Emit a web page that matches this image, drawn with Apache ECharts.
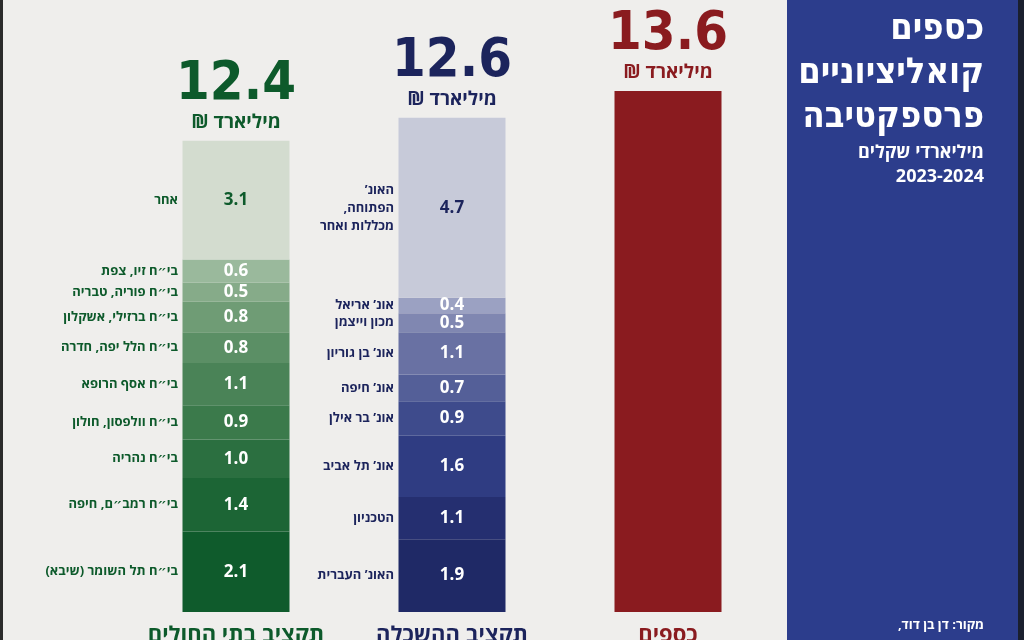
<!DOCTYPE html>
<html>
<head>
<meta charset="utf-8">
<script src="https://cdn.jsdelivr.net/npm/echarts@6/dist/echarts.min.js"></script>
<style>
  html, body { margin: 0; padding: 0; background: #efeeec; }
  #chart { width: 1024px; height: 640px; }
</style>
</head>
<body>
<div id="chart" dir="rtl"></div>
<script>
// columns, left to right
var categories = ['תקציב בתי החולים', 'תקציב ההשכלה', 'כספים'];
var totals = [12.4, 12.6, 13.6];

// hospitals, bottom to top
var hospitalNames = ['בי״ח תל השומר (שיבא)', 'בי״ח רמב״ם, חיפה', 'בי״ח נהריה', 'בי״ח וולפסון, חולון',
  'בי״ח אסף הרופא', 'בי״ח הלל יפה, חדרה', 'בי״ח ברזילי, אשקלון', 'בי״ח פוריה, טבריה', 'בי״ח זיו, צפת', 'אחר'];
var hospitalValues = [2.1, 1.4, 1.0, 0.9, 1.1, 0.8, 0.8, 0.5, 0.6, 3.1];

// higher education, bottom to top
var uniNames = ['האונ’ העברית', 'הטכניון', 'אונ’ תל אביב', 'אונ’ בר אילן', 'אונ’ חיפה',
  'אונ’ בן גוריון', 'מכון וייצמן', 'אונ’ אריאל', 'האונ’\nהפתוחה,\nמכללות ואחר'];
var uniValues = [1.9, 1.1, 1.6, 0.9, 0.7, 1.1, 0.5, 0.4, 4.7];

// coalition funds
var coalitionValues = [13.6];

var green = '#0d5a2b', navy = '#1c245c', red = '#8a1b1f';
var greenShades = ['#0f5b2c', '#1c6535', '#2b6f40', '#3b7a4b', '#4a8357', '#5b8f65', '#6f9c75', '#86ab89', '#9ab99c', '#d3dccf'];
var blueShades = ['#1f2966', '#252f70', '#2f3c82', '#3e4b8c', '#545f98', '#6971a3', '#8087b1', '#9ba1c2', '#c7cad9'];

var font = "'Open Sans', 'DejaVu Sans', sans-serif";
var narrow = "'Liberation Sans Narrow', 'DejaVu Sans Condensed', sans-serif";

var series = [];
var namePoints = [[], []];

function addColumn(col, values, names, shades, darkColor) {
  var acc = 0;
  values.forEach(function(v, i) {
    var data = ['-', '-', '-'];
    data[col] = v;
    var top = i === values.length - 1;
    series.push({
      type: 'bar', stack: 'all', barWidth: 107,
      data: data,
      itemStyle: { color: shades[i] },
      label: {
        show: !!names, position: 'inside',
        color: top ? darkColor : '#ffffff',
        fontFamily: font, fontWeight: 'bold', fontSize: 17,
        formatter: function(p) { return p.value.toFixed(1); }
      }
    });
    if (names) namePoints[col].push({ value: [categories[col], acc + v / 2], name: names[i] });
    acc += v;
  });
  return acc;
}

var sums = [
  addColumn(0, hospitalValues, hospitalNames, greenShades, green),
  addColumn(1, uniValues, uniNames, blueShades, navy),
  addColumn(2, coalitionValues, null, [red], red)
];

[green, navy].forEach(function(c, col) {
  series.push({
    type: 'scatter', symbolSize: 0, data: namePoints[col], z: 5,
    itemStyle: { opacity: 1 },
    label: {
      show: true, position: 'left', distance: 58, formatter: '{b}',
      color: c, fontFamily: font, fontWeight: 'bold', fontSize: 13, lineHeight: 18, align: 'right'
    }
  });
});

var colColors = [green, navy, red];
series.push({
  type: 'scatter', symbolSize: 0, z: 5,
  itemStyle: { opacity: 1 },
  data: sums.map(function(s, i) { return { value: [categories[i], s], name: String(totals[i]) }; }),
  label: {
    show: true, position: 'top', distance: 6,
    formatter: function(p) { return '{big' + p.dataIndex + '|' + totals[p.dataIndex].toFixed(1) + '}\n{unit' + p.dataIndex + '|מיליארד ₪}'; },
    rich: (function() {
      var r = {};
      colColors.forEach(function(c, i) {
        r['big' + i] = { color: c, fontFamily: narrow, fontWeight: 'bold', fontSize: 54, lineHeight: 52 };
        r['unit' + i] = { color: c, fontFamily: font, fontWeight: 'bold', fontSize: 19, lineHeight: 24 };
      });
      return r;
    })()
  }
});

var chart = echarts.init(document.getElementById('chart'));
chart.setOption({
  animation: false,
  backgroundColor: '#efeeec',
  grid: { left: 128, right: 248, top: 68, bottom: 28, outerBoundsMode: 'none', containLabel: false },
  xAxis: {
    type: 'category', data: categories,
    axisLine: { show: false }, axisTick: { show: false },
    axisLabel: {
      margin: 13,
      formatter: function(v, i) { return '{c' + i + '|' + v + '}'; },
      rich: {
        c0: { color: green, fontFamily: font, fontWeight: 'bold', fontSize: 22 },
        c1: { color: navy, fontFamily: font, fontWeight: 'bold', fontSize: 22 },
        c2: { color: red, fontFamily: font, fontWeight: 'bold', fontSize: 22 }
      }
    }
  },
  yAxis: { type: 'value', min: 0, max: 14.2, show: false, splitLine: { show: false } },
  graphic: [
    { type: 'rect', shape: { x: 0, y: 0, width: 3, height: 640 }, style: { fill: '#2b2b2b' } },
    { type: 'rect', shape: { x: 787, y: 0, width: 232, height: 640 }, style: { fill: '#2c3d8c' } },
    { type: 'rect', shape: { x: 1018, y: 0, width: 6, height: 640 }, style: { fill: '#1a1f2e' } },
    { type: 'text', x: 984, y: 8, style: { text: 'כספים\nקואליציוניים\nפרספקטיבה', fill: '#ffffff',
        font: 'bold 36px ' + narrow, lineHeight: 44, textAlign: 'right' } },
    { type: 'text', x: 984, y: 141, style: { text: 'מיליארדי שקלים\n2023-2024', fill: '#ffffff',
        font: 'bold 18px ' + font, lineHeight: 24, textAlign: 'right' } },
    { type: 'text', x: 984, y: 619, style: { text: 'מקור: דן בן דוד,', fill: '#ffffff',
        font: 'bold 13px ' + font, textAlign: 'right' } }
  ],
  series: series
});
</script>
</body>
</html>
